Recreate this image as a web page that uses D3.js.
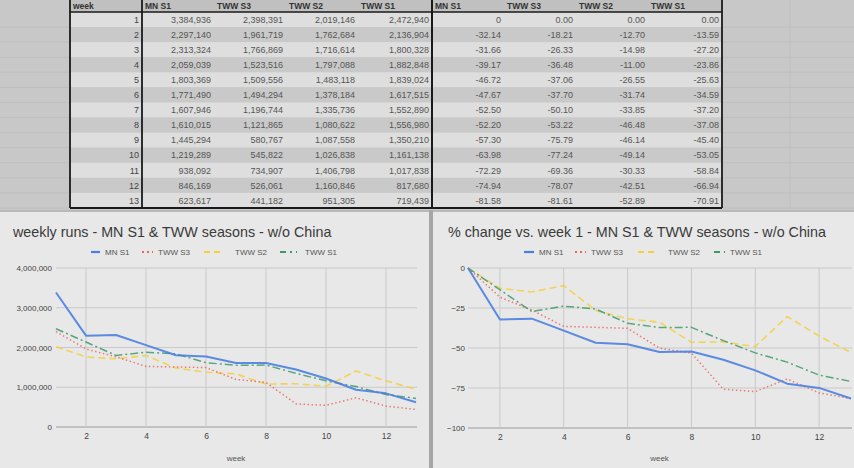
<!DOCTYPE html>
<html><head><meta charset="utf-8">
<script src="https://cdn.jsdelivr.net/npm/d3@7"></script>
<style>html,body{margin:0;padding:0;background:#c9c9c9;overflow:hidden}svg{display:block;font-family:"Liberation Sans",Arial,sans-serif}</style>
</head><body>
<svg id="c" width="854" height="468"></svg>
<script>
const weeks = [1,2,3,4,5,6,7,8,9,10,11,12,13];
const seriesNames = ["MN S1","TWW S3","TWW S2","TWW S1"];
const mnS1Runs  = [3384936,2297140,2313324,2059039,1803369,1771490,1607946,1610015,1445294,1219289,938092,846169,623617];
const tww3Runs  = [2398391,1961719,1766869,1523516,1509556,1494294,1196744,1121865,580767,545822,734907,526061,441182];
const tww2Runs  = [2019146,1762684,1716614,1797088,1483118,1378184,1335736,1080622,1087558,1026838,1406798,1160846,951305];
const tww1Runs  = [2472940,2136904,1800328,1882848,1839024,1617515,1552890,1556980,1350210,1161138,1017838,817680,719439];
const mnS1Pct = [0,-32.14,-31.66,-39.17,-46.72,-47.67,-52.50,-52.20,-57.30,-63.98,-72.29,-74.94,-81.58];
const tww3Pct = [0,-18.21,-26.33,-36.48,-37.06,-37.70,-50.10,-53.22,-75.79,-77.24,-69.36,-78.07,-81.61];
const tww2Pct = [0,-12.70,-14.98,-11.00,-26.55,-31.74,-33.85,-46.48,-46.14,-49.14,-30.33,-42.51,-52.89];
const tww1Pct = [0,-13.59,-27.20,-23.86,-25.63,-34.59,-37.20,-37.08,-45.40,-53.05,-58.84,-66.94,-70.91];
const runsTicks = [0,1000000,2000000,3000000,4000000];
const pctTicks = [-100,-75,-50,-25,0];
const weekTicks = [2,4,6,8,10,12];
const titleRuns = "weekly runs - MN S1 & TWW seasons - w/o China";
const titlePct = "% change vs. week 1 - MN S1 & TWW seasons - w/o China";

const runsSeries = [mnS1Runs,tww3Runs,tww2Runs,tww1Runs];
const pctSeries = [mnS1Pct,tww3Pct,tww2Pct,tww1Pct];
const colors = ["#4a7fe0","#e8675c","#f5cf3c","#3d9a68"];
const dashes = [null,"1.5,2.5","7,4","8,3,2,3"];
const widths = [2,1.5,1.6,1.5];

const svg = d3.select("#c");
svg.append("rect").attr("x",0).attr("y",0).attr("width",854).attr("height",210).attr("fill","#c8c8c8");
const rowY = d3.scaleLinear().domain([0,13]).range([12,208]);
const bgLines = svg.append("g").attr("stroke","#bdbdbd").attr("stroke-width",0.8);
weeks.forEach((w,i)=>{
  bgLines.append("line").attr("x1",0).attr("x2",69).attr("y1",rowY(i+1)).attr("y2",rowY(i+1));
  bgLines.append("line").attr("x1",723).attr("x2",854).attr("y1",rowY(i+1)).attr("y2",rowY(i+1));
});
bgLines.append("line").attr("x1",790).attr("x2",790).attr("y1",0).attr("y2",208);

const colEdges = [70,142,214,286,358,432,504,576,648,722];
const table = svg.append("g");
table.append("rect").attr("x",70).attr("y",0).attr("width",652).attr("height",12).attr("fill","#c0c0c0");
weeks.forEach((w,i)=>{
  table.append("rect").attr("x",70).attr("y",rowY(i)).attr("width",652).attr("height",rowY(i+1)-rowY(i))
    .attr("fill", i%2===0 ? "#dedede" : "#c9c9c9");
});
const headers = ["week"].concat(seriesNames, seriesNames);
headers.forEach((h,j)=>{
  table.append("text").attr("x",colEdges[j]+3).attr("y",8.5).attr("font-size",8.5).attr("font-weight","bold")
    .attr("fill","#333").text(h);
});
const fmtRuns = d3.format(",");
weeks.forEach((w,i)=>{
  const yy = rowY(i)+10.8;
  table.append("text").attr("x",colEdges[1]-3).attr("y",yy).attr("text-anchor","end").attr("font-size",9).attr("fill","#444").text(w);
  runsSeries.forEach((s,k)=>{
    table.append("text").attr("x",colEdges[k+2]-3).attr("y",yy).attr("text-anchor","end").attr("font-size",9).attr("fill","#555").text(fmtRuns(s[i]));
  });
  pctSeries.forEach((s,k)=>{
    const label = (k===0 && s[i]===0) ? "0" : s[i].toFixed(2);
    table.append("text").attr("x",colEdges[k+6]-3).attr("y",yy).attr("text-anchor","end").attr("font-size",9).attr("fill","#555").text(label);
  });
});
const borders = table.append("g").attr("stroke","#1a1a1a");
[70,142,432,722].forEach(x=>borders.append("line").attr("x1",x).attr("x2",x).attr("y1",0).attr("y2",208).attr("stroke-width",x===432?2:1.8));
borders.append("line").attr("x1",70).attr("x2",722).attr("y1",12).attr("y2",12).attr("stroke-width",1.6);
borders.append("line").attr("x1",70).attr("x2",722).attr("y1",208).attr("y2",208).attr("stroke-width",1.8);

svg.append("rect").attr("x",0).attr("y",210).attr("width",854).attr("height",258).attr("fill","#b9b9b9");
svg.append("rect").attr("x",0).attr("y",212).attr("width",429).attr("height",256).attr("fill","#e8e8e8");
svg.append("rect").attr("x",433).attr("y",212).attr("width",421).attr("height",256).attr("fill","#e8e8e8");
svg.append("rect").attr("x",429).attr("y",210).attr("width",4).attr("height",258).attr("fill","#a6a6a6");

function drawChart(opt){
  const g = svg.append("g");
  const x = d3.scaleLinear().domain([1,13]).range(opt.xr);
  const y = d3.scaleLinear().domain(opt.yd).range(opt.yr);
  g.append("text").attr("x",opt.titleX).attr("y",237).attr("font-size",14.3).attr("fill","#3a3a3a").text(opt.title);
  const grid = g.append("g").attr("stroke","#c9c9c9").attr("stroke-width",1);
  opt.yTicks.forEach(t=>{
    grid.append("line").attr("x1",opt.xr[0]).attr("x2",opt.xr[1]+1).attr("y1",y(t)).attr("y2",y(t))
      .attr("stroke", t===opt.baseTick ? "#9a9a9a" : "#c9c9c9");
  });
  weekTicks.forEach(t=>{
    grid.append("line").attr("x1",x(t)).attr("x2",x(t)).attr("y1",opt.yr[1]).attr("y2",opt.yr[0]);
  });
  const ya = d3.axisLeft(y).tickValues(opt.yTicks).tickFormat(opt.yFmt).tickSize(0).tickPadding(0);
  const yg = g.append("g").attr("transform",`translate(${opt.yLabelX},0)`).call(ya);
  yg.select(".domain").remove();
  yg.selectAll("text").attr("font-size",8).attr("fill","#444").attr("font-family","Liberation Sans, Arial, sans-serif");
  const xa = d3.axisBottom(x).tickValues(weekTicks).tickFormat(d3.format("d")).tickSize(0).tickPadding(0);
  const xg = g.append("g").attr("transform",`translate(0,${opt.yr[0]+6})`).call(xa);
  xg.select(".domain").remove();
  xg.selectAll("text").attr("font-size",8.5).attr("fill","#444").attr("font-family","Liberation Sans, Arial, sans-serif");
  g.append("text").attr("x",(opt.xr[0]+opt.xr[1])/2).attr("y",461).attr("text-anchor","middle").attr("font-size",8).attr("fill","#555").text("week");
  const line = d3.line().x((d,i)=>x(weeks[i])).y(d=>y(d));
  const order = [2,1,3,0];
  order.forEach(k=>{
    g.append("path").datum(opt.series[k]).attr("d",line).attr("fill","none")
      .attr("stroke",colors[k]).attr("stroke-width",widths[k]).attr("stroke-opacity",k===0?0.9:0.85)
      .attr("stroke-dasharray",dashes[k]).attr("stroke-linejoin","round");
  });
  const lg = g.append("g");
  opt.legend.forEach((it,k)=>{
    lg.append("line").attr("x1",it.m0).attr("x2",it.m1).attr("y1",252).attr("y2",252)
      .attr("stroke",colors[k]).attr("stroke-width",k===0?2.2:2).attr("stroke-dasharray",k===0?null:(k===1?"2,3":(k===2?"6,4":"6,4,2,4")));
    lg.append("text").attr("x",it.t).attr("y",255).attr("font-size",8).attr("fill","#555").text(seriesNames[k]);
  });
}

drawChart({
  xr:[56,416], yd:[0,4000000], yr:[427,268], yTicks:runsTicks, baseTick:0,
  yFmt:d3.format(","), yLabelX:52, titleX:13, title:titleRuns, series:runsSeries,
  legend:[{m0:91,m1:100,t:105},{m0:142,m1:153,t:158},{m0:204,m1:221,t:235},{m0:280,m1:297,t:305}]
});
drawChart({
  xr:[468,851], yd:[-100,0], yr:[428,268], yTicks:pctTicks, baseTick:-100,
  yFmt:d3.format("d"), yLabelX:465, titleX:448, title:titlePct, series:pctSeries,
  legend:[{m0:524,m1:534,t:539},{m0:575,m1:586,t:591},{m0:638,m1:656,t:668},{m0:714,m1:725,t:730}]
});
</script>
</body></html>
